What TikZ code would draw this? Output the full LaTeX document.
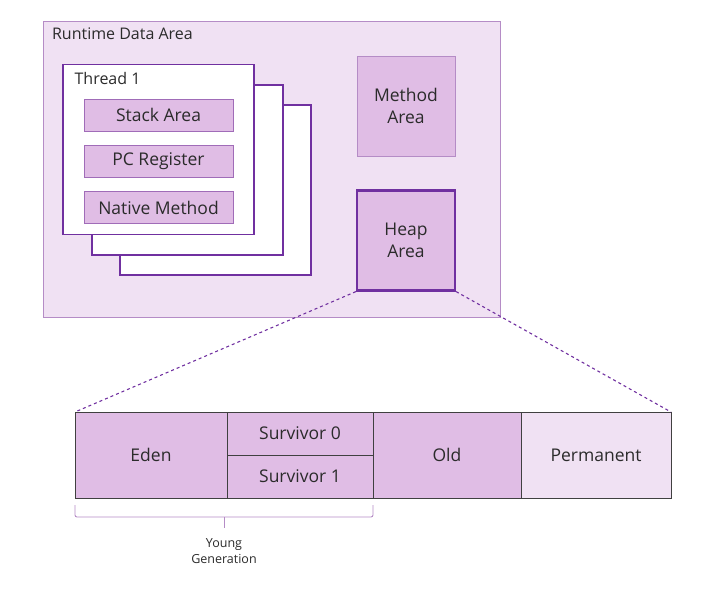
\documentclass[tikz,border=0pt]{standalone}
\usepackage{fontspec}
\setmainfont{Open Sans}
\usetikzlibrary{positioning, calc}
\definecolor{areabg}{HTML}{F0E1F3}
\definecolor{arealine}{HTML}{B58CC6}
\definecolor{cellbg}{HTML}{E0BDE5}
\definecolor{cellline}{HTML}{A06CB8}
\definecolor{deeppurple}{HTML}{7030A0}
\definecolor{txt}{HTML}{2B2B2B}

\begin{document}
\begin{tikzpicture}[
    x=1pt, y=-1pt,
    font=\fontsize{17.5}{22}\selectfont, text=txt,
    % gaya kotak
    area/.style={rectangle, draw=arealine, fill=areabg, line width=0.9pt, inner sep=0pt},
    thread/.style={rectangle, draw=deeppurple, fill=white, line width=1.8pt, minimum width=191pt, minimum height=170pt, inner sep=0pt},
    part/.style={rectangle, draw=cellline, fill=cellbg, line width=0.9pt, minimum width=149pt, minimum height=32pt, inner sep=0pt},
    region/.style={rectangle, draw=arealine, fill=cellbg, line width=1pt, minimum width=98pt, minimum height=100pt, align=center, inner sep=0pt},
    gen/.style={rectangle, draw=black!75, fill=cellbg, line width=0.9pt, minimum height=86pt, inner sep=0pt, outer sep=0pt},
    zoomline/.style={deeppurple, dashed, line width=1.1pt},
    brace/.style={arealine, line width=0.9pt, rounded corners=2pt}
]
\useasboundingbox (0,0) rectangle (723,589);

% Runtime Data Area
\node (rda) [area, minimum width=457pt, minimum height=296pt] at (271.5,169) {};
\node [anchor=north west, font=\fontsize{16}{19}\selectfont] at (rda.north west) [xshift=6pt, yshift=-4pt] {Runtime Data Area};

% tumpukan thread
\node (thread3) [thread] at (215.5,190) {};
\node (thread2) [thread] at (187.5,170) {};
\node (thread1) [thread] at (158.5,149.5) {};
\node [anchor=north west, font=\fontsize{16}{19}\selectfont] at (thread1.north west) [xshift=9pt, yshift=-5pt] {Thread 1};

\node (stack) [part] at (158.5,115) {Stack Area};
\node (pc) [part, below=13.5pt of stack] {PC Register};
\node (native) [part, below=13.5pt of pc] {Native Method};

% Method dan Heap
\node (method) [region] at (406,106) {Method\\Area};
\node (heap) [region, draw=deeppurple, line width=2.2pt] at (406,240.5) {Heap\\Area};

% Heap Area diperbesar
\node (eden) [gen, minimum width=152pt] at (151,455) {Eden};
\node (s0) [gen, minimum width=146pt, minimum height=43pt, anchor=north west] at (eden.north east) {Survivor 0};
\node (s1) [gen, minimum width=146pt, minimum height=43pt, anchor=north west] at (s0.south west) {Survivor 1};
\node (old) [gen, minimum width=148pt, anchor=north west] at (s0.north east) {Old};
\node (perm) [gen, fill=areabg, minimum width=150pt, anchor=north west] at (old.north east) {Permanent};

\draw [zoomline] (heap.south west) -- (eden.north west);
\draw [zoomline] (heap.south east) -- (perm.north east);

% kurung Young Generation
\coordinate (ymid) at ($(eden.south west)!0.5!(s1.south east)$);
\draw [brace] (eden.south west) ++(0,7) -- ++(0,12) -| ([yshift=-7pt]s1.south east);
\draw [brace] (ymid) ++(0,19) -- ++(0,11);
\node (young) [align=center, font=\fontsize{12.5}{16}\selectfont, below=37pt of ymid] {Young\\Generation};

\end{tikzpicture}
\end{document}
